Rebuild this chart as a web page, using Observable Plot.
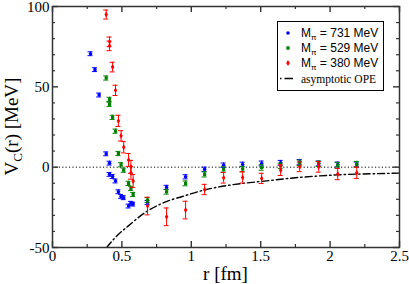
<!DOCTYPE html>
<html>
<head>
<meta charset="utf-8">
<script src="https://cdn.jsdelivr.net/npm/d3@7"></script>
<script src="https://cdn.jsdelivr.net/npm/@observablehq/plot@0.6"></script>
<style>
  body { margin: 0; background: white; }
  #chart { position: relative; width: 409px; height: 284px; }
</style>
</head>
<body>
<div id="chart"></div>
<script>
// ---- data ----
const rBlue = [0.274, 0.306, 0.336, 0.387, 0.411, 0.411, 0.433, 0.454, 0.475, 0.494, 0.513, 0.548, 0.565, 0.581, 0.685, 0.822, 0.959, 1.096, 1.233, 1.370, 1.507, 1.644, 1.781, 1.918, 2.055, 2.192];
const vBlue = [70.6, 60.7, 44.9, 8.3, 2.5, -4.5, -5.8, -8.6, -15.3, -18.2, -19.0, -24.2, -22.5, -23.0, -22.0, -12.6, -6.0, -1.4, 1.2, 1.7, 2.3, 2.7, 3.3, 2.3, 1.7, 1.7];
const eBlue = [1.2, 1.2, 1.2, 1.2, 1.2, 1.2, 1.2, 1.2, 1.2, 1.2, 1.2, 1.2, 1.2, 1.2, 1.3, 1.3, 1.3, 1.4, 1.4, 1.4, 1.5, 1.5, 1.5, 1.5, 1.5, 1.5];

const rGreen = [0.387, 0.411, 0.411, 0.433, 0.454, 0.475, 0.494, 0.513, 0.548, 0.565, 0.581, 0.685, 0.822, 0.959, 1.096, 1.233, 1.370, 1.507, 1.644, 1.781, 1.918, 2.055, 2.192];
const vGreen = [55.5, 42.2, 39.1, 31.0, 22.4, 8.5, 1.5, -1.9, -10.1, -13.2, -17.0, -20.5, -15.3, -10.1, -4.5, -1.4, -1.2, -0.2, 0.8, 2.7, 2.1, 1.2, 1.9];
const eGreen = [1.3, 1.3, 1.3, 1.3, 1.3, 1.3, 1.3, 1.3, 1.3, 1.3, 1.3, 1.5, 1.5, 1.5, 1.6, 1.6, 1.7, 1.7, 1.7, 1.7, 1.7, 1.7, 1.7];

const rRed = [0.387, 0.411, 0.411, 0.433, 0.454, 0.475, 0.494, 0.513, 0.548, 0.565, 0.565, 0.581, 0.685, 0.822, 0.959, 1.096, 1.233, 1.370, 1.507, 1.644, 1.781, 1.918, 2.055, 2.192];
const vRed = [95.0, 78.0, 75.5, 62.3, 47.8, 28.8, 19.5, 12.4, 4.5, 0.2, -3.5, -8.6, -24.2, -30.9, -26.7, -13.9, -6.6, -6.4, -7.0, -1.9, 0.2, 0.2, -4.3, -3.5];
const eRed = [2.8, 3.0, 3.0, 3.0, 3.2, 3.5, 3.2, 3.5, 4.0, 4.0, 4.0, 4.0, 5.5, 5.5, 5.5, 3.2, 3.3, 3.5, 3.2, 3.3, 3.0, 3.3, 3.5, 3.5];

const rOPE = [0.39, 0.45, 0.54, 0.68, 0.85, 0.93, 1.09, 1.2, 1.37, 1.5, 1.775, 2.05, 2.41, 2.5];
const vOPE = [-50, -44, -37, -27.5, -20.5, -18.4, -14.3, -12.3, -10.1, -8.9, -6.4, -4.8, -3.9, -3.7];

const seriesMass = ["731", "529", "380"];
const seriesColors = ["#0000ff", "#008000", "#ff0000"];
const seriesSymbols = ["circle", "square", "diamond"];

const xMajor = [0, 0.5, 1, 1.5, 2, 2.5];
const xMinor = [0.25, 0.75, 1.25, 1.75, 2.25];
const yMajor = [-50, 0, 50, 100];
const yMinor = [-40, -30, -20, -10, 10, 20, 30, 40, 60, 70, 80, 90];

// ---- build table ----
const pts = [];
[[rBlue, vBlue, eBlue], [rGreen, vGreen, eGreen], [rRed, vRed, eRed]].forEach(([rs, vs, es], s) => {
  rs.forEach((r, i) => pts.push({s, r, v: vs[i], e: es[i]}));
});
const ope = rOPE.map((r, i) => ({r, v: vOPE[i]}));

const W = 409, H = 284, mL = 52, mR = 10, mT = 6, mB = 37;
const pw = W - mL - mR, ph = H - mT - mB;
const axisColor = "#333";

const series = [0, 1, 2];
const errMarks = series.flatMap(s => {
  const d = pts.filter(p => p.s === s);
  const c = seriesColors[s];
  return [
    Plot.ruleX(d, {x: "r", y1: p => p.v - p.e, y2: p => p.v + p.e, stroke: c, strokeWidth: 1}),
    Plot.ruleY(d, {x1: "r", x2: "r", y: p => p.v + p.e, insetLeft: -2.5, insetRight: -2.5, stroke: c, strokeWidth: 1}),
    Plot.ruleY(d, {x1: "r", x2: "r", y: p => p.v - p.e, insetLeft: -2.5, insetRight: -2.5, stroke: c, strokeWidth: 1}),
    Plot.dot(d, {x: "r", y: "v", fill: c, r: 1.8, symbol: seriesSymbols[s]})
  ];
});

const chart = Plot.plot({
  width: W, height: H,
  marginLeft: mL, marginRight: mR, marginTop: mT, marginBottom: mB,
  x: {domain: [0, 2.5]},
  y: {domain: [-50, 100]},
  style: {fontFamily: "'Liberation Serif', serif", fontSize: "15px", background: "white", color: "black", overflow: "visible"},
  marks: [
    Plot.ruleY([0], {stroke: "black", strokeWidth: 1, strokeDasharray: "1.2,2.2"}),
    Plot.line(ope, {x: "r", y: "v", stroke: "black", strokeWidth: 1.4, strokeDasharray: "7,3,1.5,3", curve: "monotone-x", clip: true}),
    ...errMarks,
    // inward ticks on all four sides
    Plot.tickX(xMajor, {x: d => d, insetTop: ph - 6, stroke: axisColor, strokeWidth: 1.4}),
    Plot.tickX(xMajor, {x: d => d, insetBottom: ph - 6, stroke: axisColor, strokeWidth: 1.4}),
    Plot.tickX(xMinor, {x: d => d, insetTop: ph - 3, stroke: axisColor, strokeWidth: 1.2}),
    Plot.tickX(xMinor, {x: d => d, insetBottom: ph - 3, stroke: axisColor, strokeWidth: 1.2}),
    Plot.tickY(yMajor, {y: d => d, insetRight: pw - 6, stroke: axisColor, strokeWidth: 1.4}),
    Plot.tickY(yMajor, {y: d => d, insetLeft: pw - 6, stroke: axisColor, strokeWidth: 1.4}),
    Plot.tickY(yMinor, {y: d => d, insetRight: pw - 3, stroke: axisColor, strokeWidth: 1.2}),
    Plot.tickY(yMinor, {y: d => d, insetLeft: pw - 3, stroke: axisColor, strokeWidth: 1.2}),
    Plot.axisX(xMajor, {anchor: "bottom", tickSize: 0, tickPadding: 3, tickFormat: d => String(d), fontSize: 15, label: null}),
    Plot.axisY(yMajor, {anchor: "left", tickSize: 0, tickPadding: 3, tickFormat: d => String(d), fontSize: 15, label: null, dy: 0.5}),
    Plot.frame({stroke: axisColor, strokeWidth: 1.5})
  ]
});

document.getElementById("chart").appendChild(chart);

// ---- axis titles and legend ----
const svg = d3.select(chart);
const serif = "'Liberation Serif', serif";
const sans = "'Liberation Sans', Arial, sans-serif";

svg.append("text")
  .attr("x", mL + pw / 2).attr("y", 280)
  .attr("text-anchor", "middle")
  .attr("font-family", serif).attr("font-size", 19).attr("fill", "black")
  .text("r [fm]");

const yt = svg.append("text")
  .attr("transform", `translate(18,${mT + ph / 2}) rotate(-90)`)
  .attr("text-anchor", "middle")
  .attr("font-family", serif).attr("font-size", 19).attr("fill", "black");
yt.append("tspan").text("V");
yt.append("tspan").attr("font-size", 13).attr("dy", 4).text("C");
yt.append("tspan").attr("dy", -4).text("(r) [MeV]");

const lg = svg.append("g").attr("text-anchor", "start");
lg.append("rect").attr("x", 277.5).attr("y", 21.5).attr("width", 106).attr("height", 69)
  .attr("fill", "white").attr("stroke", "black").attr("stroke-width", 1);
const rowY = [33, 48, 63];
series.forEach(s => {
  const y = rowY[s];
  const sym = d3.symbol().type(s === 0 ? d3.symbolCircle : s === 1 ? d3.symbolSquare : d3.symbolDiamond).size(s === 0 ? 10 : 11);
  lg.append("path").attr("d", sym()).attr("transform", `translate(288,${y})`).attr("fill", seriesColors[s]);
  const t = lg.append("text").attr("x", 301).attr("y", y + 4).attr("text-anchor", "start")
    .attr("font-family", sans).attr("font-size", 12).attr("fill", "black");
  t.append("tspan").text("M");
  t.append("tspan").attr("font-size", 8).attr("dy", 3).text("\u03C0");
  t.append("tspan").attr("dy", -3).text(` = ${seriesMass[s]} MeV`);
});
lg.append("line").attr("x1", 280).attr("x2", 293).attr("y1", 78.5).attr("y2", 78.5)
  .attr("stroke", "black").attr("stroke-width", 1.4).attr("stroke-dasharray", "1.5,3,8.5");
lg.append("text").attr("x", 301).attr("y", 82.5).attr("text-anchor", "start")
  .attr("font-family", serif).attr("font-size", 11.5).attr("fill", "black")
  .text("asymptotic OPE");
</script>
</body>
</html>
